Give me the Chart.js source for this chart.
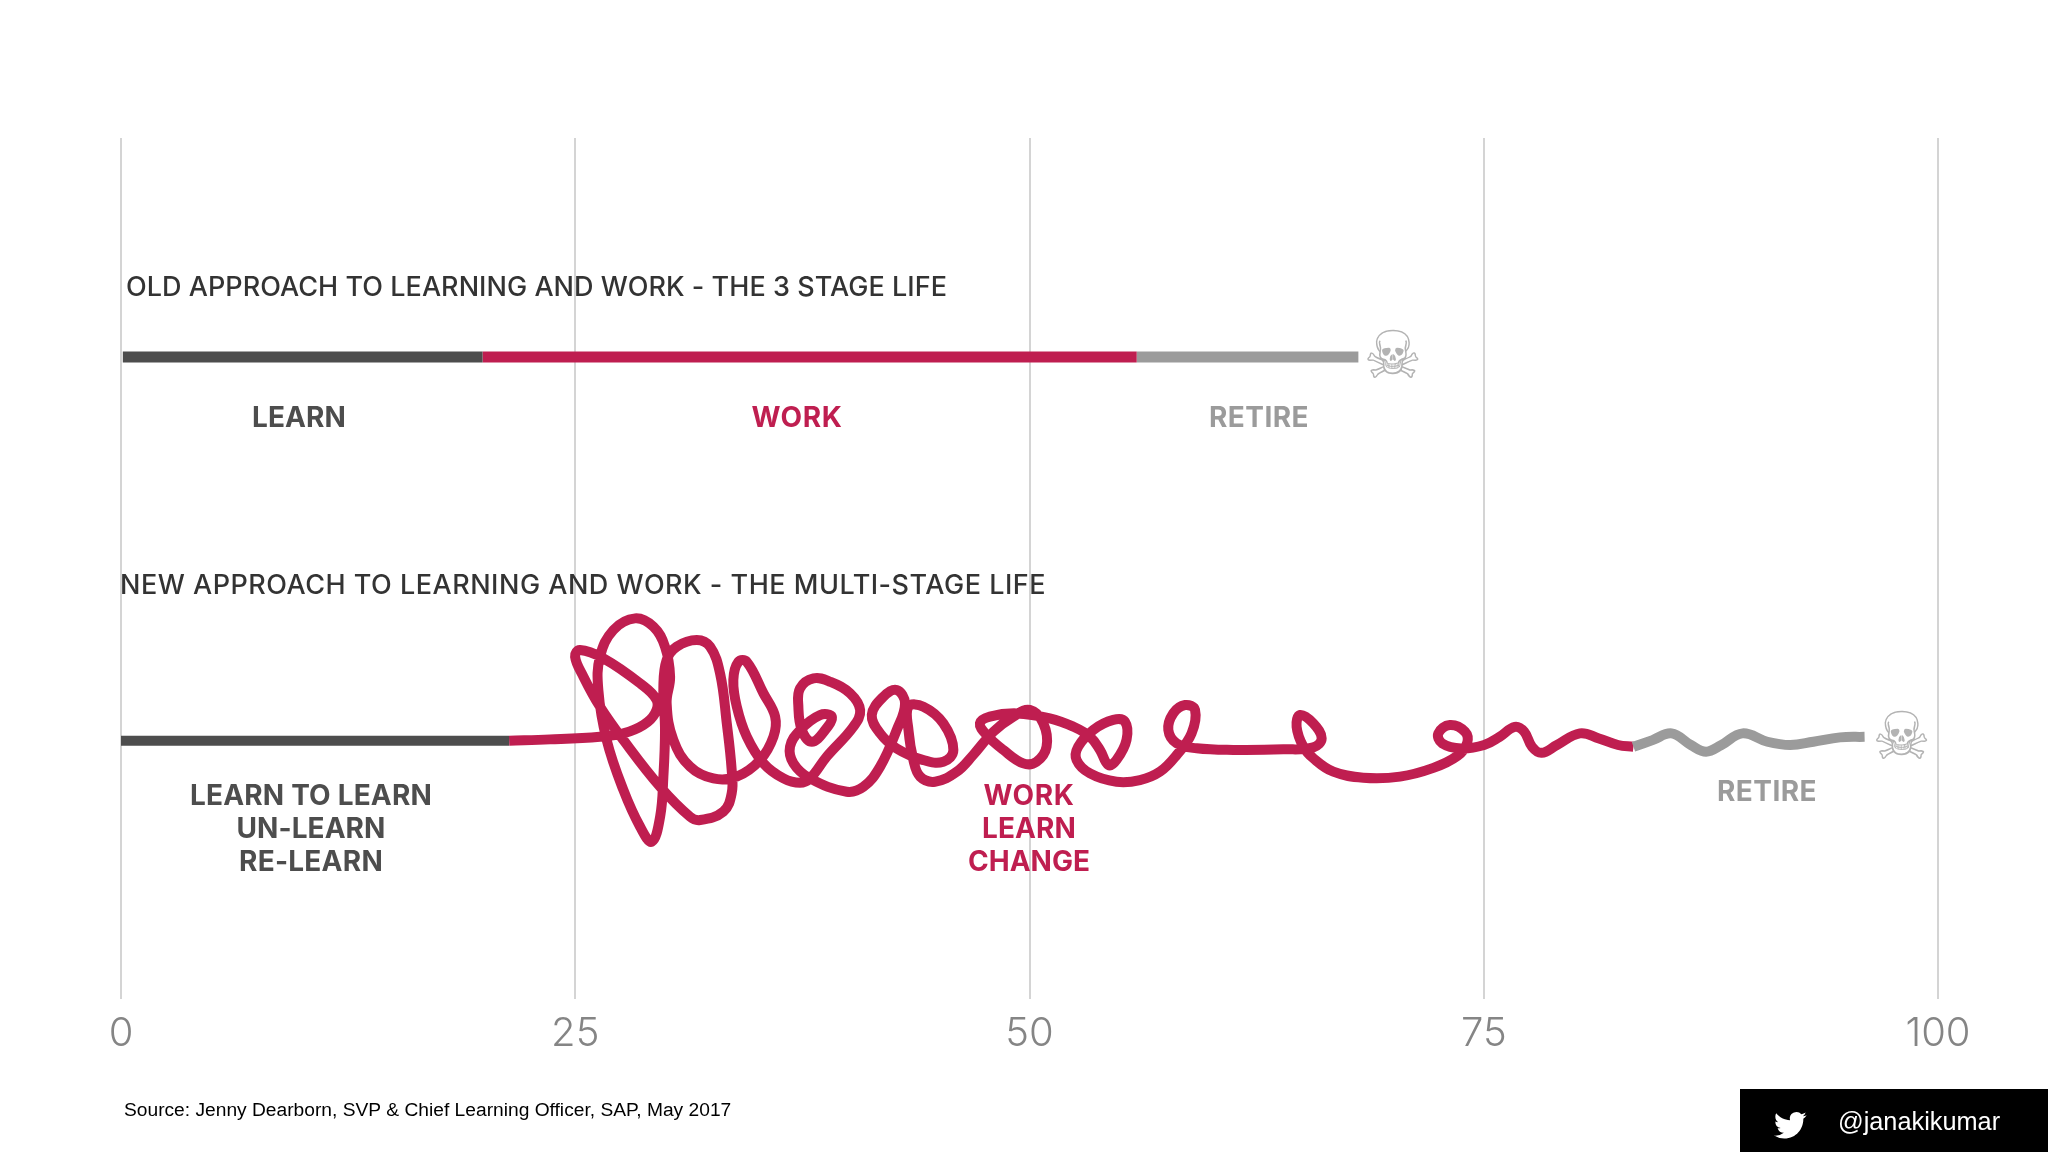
<!DOCTYPE html>
<html>
<head>
<meta charset="utf-8">
<title>3 stage life vs multi-stage life</title>
<script src="https://cdn.jsdelivr.net/npm/chart.js@4"></script>
<style>
  html, body { margin: 0; padding: 0; background: #fff; }
  #wrap { width: 2048px; height: 1152px; }
</style>
</head>
<body>
<div id="wrap"><canvas id="lifeChart" width="2048" height="1152"></canvas></div>
<script>
// age ticks along the bottom
const ageTicks = [0, 25, 50, 75, 100];

// old approach: three straight stages
const oldLevel = 35.33;
const oldLearnAge = [0.1, 19.9];
const oldWorkAge = [19.9, 55.9];
const oldRetireAge = [55.9, 68.1];

// new approach: learn part is straight
const newLevel = 14.22;
const newLearnAge = [-0.1, 21.36];

// new approach: the scribble
const newWorkAge = [21.36, 23.61, 26.36, 27.65, 28.75, 29.39, 29.48, 28.57, 26.55, 25.26, 24.99, 25.45, 26.36, 27.65, 29.67, 31.32, 31.87, 33.15, 33.61, 33.61,
  33.34, 32.97, 32.42, 31.69, 30.58, 30.03, 29.85, 29.94, 29.85, 29.67, 29.21, 28.57, 27.65, 26.73, 26.27, 26.36, 27.10, 28.29, 29.30, 29.94,
  30.22, 30.03, 30.40, 31.32, 32.60, 33.89, 35.17, 35.91, 36.00, 35.36, 34.44, 33.98, 33.70, 33.89, 34.44, 35.36, 36.46, 37.37, 37.92, 38.84,
  40.31, 40.68, 40.13, 39.03, 38.11, 37.37, 37.28, 37.47, 38.02, 38.75, 39.12, 38.47, 37.37, 36.82, 37.01, 37.92, 39.94, 40.86, 41.78, 42.69,
  43.15, 42.69, 41.96, 41.32, 41.78, 42.69, 44.16, 45.26, 45.81, 45.26, 44.16, 43.34, 43.34, 43.61, 43.98, 44.80, 46.00, 46.90, 48.01, 49.11,
  50.02, 50.76, 50.94, 50.39, 49.66, 48.56, 47.64, 47.27, 47.82, 49.29, 51.12, 52.41, 53.33, 53.88, 54.34, 54.79, 55.34, 55.25, 54.61, 53.51,
  52.68, 52.59, 53.33, 54.79, 56.08, 57.18, 58.10, 58.92, 59.11, 58.56, 57.91, 57.64, 58.10, 59.20, 61.22, 63.97, 65.62, 66.08, 65.62, 64.89,
  64.70, 65.07, 65.62, 66.72, 68.37, 70.39, 72.23, 73.55, 74.08, 73.97, 73.13, 72.50, 72.71, 73.76, 75.02, 75.87, 76.71, 77.23, 77.66, 78.18,
  79.03, 80.29, 81.34, 82.39, 83.24];
const newWorkLevel = [14.22, 14.29, 14.44, 14.62, 15.08, 15.72, 16.46, 17.37, 18.75, 19.21, 18.84, 17.74, 16.09, 14.25, 11.68, 10.03, 9.85, 10.31, 11.32, 12.60,
  15.17, 17.92, 19.39, 19.76, 19.39, 18.66, 17.19, 14.80, 12.24, 10.03, 8.66, 9.48, 11.50, 14.25, 17.01, 18.84, 20.31, 20.95, 20.49, 19.39,
  17.74, 16.27, 14.25, 12.79, 12.14, 12.24, 13.15, 14.44, 15.54, 16.82, 18.56, 18.56, 17.56, 16.09, 14.44, 12.97, 12.14, 11.90, 12.14, 13.34,
  14.99, 15.90, 16.82, 17.46, 17.65, 17.10, 16.09, 14.80, 14.16, 14.80, 15.54, 15.63, 14.80, 13.89, 12.97, 12.14, 11.41, 11.68, 12.79, 14.80,
  16.27, 17.01, 16.64, 15.63, 14.62, 13.79, 13.15, 13.06, 13.70, 15.17, 16.09, 16.09, 14.80, 13.15, 12.24, 11.96, 12.51, 13.43, 14.71, 15.54,
  15.91, 15.17, 13.89, 13.06, 12.97, 13.71, 14.53, 15.17, 15.54, 15.72, 15.45, 14.99, 14.44, 13.71, 12.88, 13.16, 14.26, 15.27, 15.36, 14.81,
  13.89, 13.16, 12.42, 11.96, 12.05, 12.51, 13.43, 14.62, 15.91, 16.18, 15.72, 14.81, 14.07, 13.80, 13.71, 13.74, 13.85, 14.35, 15.17, 15.63,
  14.99, 13.89, 13.25, 12.51, 12.18, 12.24, 12.72, 13.38, 14.07, 14.71, 15.08, 14.62, 14.07, 13.79, 13.98, 14.43, 14.98, 14.71, 13.88, 13.55,
  13.98, 14.62, 14.34, 13.98, 13.88];

// new approach: retire wiggle
const newRetireAge = [83.24, 84.29, 85.34, 86.40, 87.24, 88.08, 89.24, 90.61, 91.87, 93.14, 94.61, 95.96];
const newRetireLevel = [13.88, 14.25, 14.62, 13.98, 13.61, 13.98, 14.62, 14.16, 13.98, 14.16, 14.40, 14.43];

const DARK = '#4d4d4d';
const RED = '#bf1e50';
const GREY = '#9b9b9b';

function flat(ages, level) {
  return ages.map(a => ({ x: a, y: level }));
}
function zip(ages, levels) {
  return ages.map((a, i) => ({ x: a, y: levels[i] }));
}
function stage(data, color, width) {
  return {
    data: data,
    borderColor: color,
    borderWidth: width,
    pointRadius: 0,
    tension: 0.4,
    borderCapStyle: 'butt',
    borderJoinStyle: 'round',
    fill: false
  };
}

// w is the width of the text in the reference, spacing is fitted to it
const texts = [
  { t: 'OLD APPROACH TO LEARNING AND WORK - THE 3 STAGE LIFE', x: 126, y: 287.5, w: 821, size: 27, weight: 500, color: '#333333', align: 'left' },
  { t: 'NEW APPROACH TO LEARNING AND WORK - THE MULTI-STAGE LIFE', x: 120, y: 585.5, w: 926, size: 27, weight: 500, color: '#333333', align: 'left' },
  { t: 'LEARN', x: 299, y: 418.5, w: 94, size: 28, weight: 700, color: DARK, align: 'center' },
  { t: 'WORK', x: 797, y: 418.5, w: 91, size: 28, weight: 700, color: RED, align: 'center' },
  { t: 'RETIRE', x: 1259, y: 418.5, w: 100, size: 28, weight: 700, color: GREY, align: 'center' },
  { t: 'LEARN TO LEARN', x: 311, y: 796.5, w: 242, size: 28, weight: 700, color: DARK, align: 'center' },
  { t: 'UN-LEARN', x: 311, y: 829.5, w: 149, size: 28, weight: 700, color: DARK, align: 'center' },
  { t: 'RE-LEARN', x: 311, y: 862.5, w: 144, size: 28, weight: 700, color: DARK, align: 'center' },
  { t: 'WORK', x: 1029, y: 796.5, w: 91, size: 28, weight: 700, color: RED, align: 'center' },
  { t: 'LEARN', x: 1029, y: 829.5, w: 94, size: 28, weight: 700, color: RED, align: 'center' },
  { t: 'CHANGE', x: 1029, y: 862.5, w: 122, size: 28, weight: 700, color: RED, align: 'center' },
  { t: 'RETIRE', x: 1767, y: 793, w: 100, size: 28, weight: 700, color: GREY, align: 'center' }
];

const birdPath = new Path2D('M23.953 4.57a10 10 0 01-2.825.775 4.958 4.958 0 002.163-2.723c-.951.555-2.005.959-3.127 1.184a4.92 4.92 0 00-8.384 4.482C7.69 8.095 4.067 6.13 1.64 3.162a4.822 4.822 0 00-.666 2.475c0 1.71.87 3.213 2.188 4.096a4.904 4.904 0 01-2.228-.616v.06a4.923 4.923 0 003.946 4.827 4.996 4.996 0 01-2.212.085 4.936 4.936 0 004.604 3.417 9.867 9.867 0 01-6.102 2.105c-.39 0-.779-.023-1.17-.067a13.995 13.995 0 007.557 2.209c9.053 0 13.998-7.496 13.998-13.985 0-.21 0-.42-.015-.63A9.935 9.935 0 0024 4.59z');

const slideText = {
  id: 'slideText',
  afterDraw(chart) {
    const ctx = chart.ctx;
    ctx.save();
    ctx.textBaseline = 'middle';
    texts.forEach(item => {
      ctx.font = item.weight + ' ' + item.size + 'px Inter, sans-serif';
      ctx.letterSpacing = '0px';
      const gap = (item.w - ctx.measureText(item.t).width) / item.t.length;
      ctx.letterSpacing = gap + 'px';
      ctx.fillStyle = item.color;
      ctx.textAlign = item.align;
      ctx.fillText(item.t, item.x, item.y);
    });
    ctx.letterSpacing = '0px';

    // skulls at the end of each life
    ctx.font = '66px "DejaVu Sans"';
    ctx.fillStyle = '#b3b3b3';
    ctx.textAlign = 'center';
    ctx.fillText('\u2620', chart.scales.x.getPixelForValue(70), chart.scales.y.getPixelForValue(35.13));
    ctx.fillText('\u2620', chart.scales.x.getPixelForValue(98), chart.scales.y.getPixelForValue(14.13));

    // source
    ctx.font = '19.2px "Liberation Sans"';
    ctx.fillStyle = '#000';
    ctx.textAlign = 'left';
    ctx.fillText('Source: Jenny Dearborn, SVP & Chief Learning Officer, SAP, May 2017', 124, 1111);

    // twitter box
    ctx.fillStyle = '#000';
    ctx.fillRect(1740, 1089, 308, 63);
    ctx.fillStyle = '#fff';
    ctx.font = '25.3px "Liberation Sans"';
    ctx.fillText('@janakikumar', 1838, 1123.5);
    ctx.translate(1774, 1109);
    ctx.scale(1.36, 1.36);
    ctx.fill(birdPath);
    ctx.restore();
  }
};

new Chart(document.getElementById('lifeChart').getContext('2d'), {
  type: 'line',
  data: {
    datasets: [
      stage(flat(oldLearnAge, oldLevel), DARK, 11),
      stage(flat(oldWorkAge, oldLevel), RED, 11),
      stage(flat(oldRetireAge, oldLevel), GREY, 11),
      stage(flat(newLearnAge, newLevel), DARK, 10),
      stage(zip(newRetireAge, newRetireLevel), GREY, 10),
      stage(zip(newWorkAge, newWorkLevel), RED, 10)
    ]
  },
  options: {
    responsive: false,
    devicePixelRatio: 1,
    animation: false,
    layout: { padding: { left: 121, right: 110, top: 138, bottom: 0 } },
    plugins: {
      legend: { display: false },
      title: { display: false },
      tooltip: { enabled: false }
    },
    scales: {
      x: {
        type: 'linear',
        min: 0,
        max: 100,
        afterBuildTicks: axis => { axis.ticks = ageTicks.map(v => ({ value: v })); },
        afterFit: axis => { axis.height = 153; },
        border: { display: false },
        grid: { color: '#d4d4d4', lineWidth: 2, drawTicks: false },
        ticks: {
          color: '#858585',
          font: { family: 'Inter', size: 40, weight: 300 },
          padding: 11,
          maxRotation: 0
        }
      },
      y: {
        type: 'linear',
        min: 0,
        max: 47.39,
        display: false
      }
    }
  },
  plugins: [slideText]
});
</script>
</body>
</html>
